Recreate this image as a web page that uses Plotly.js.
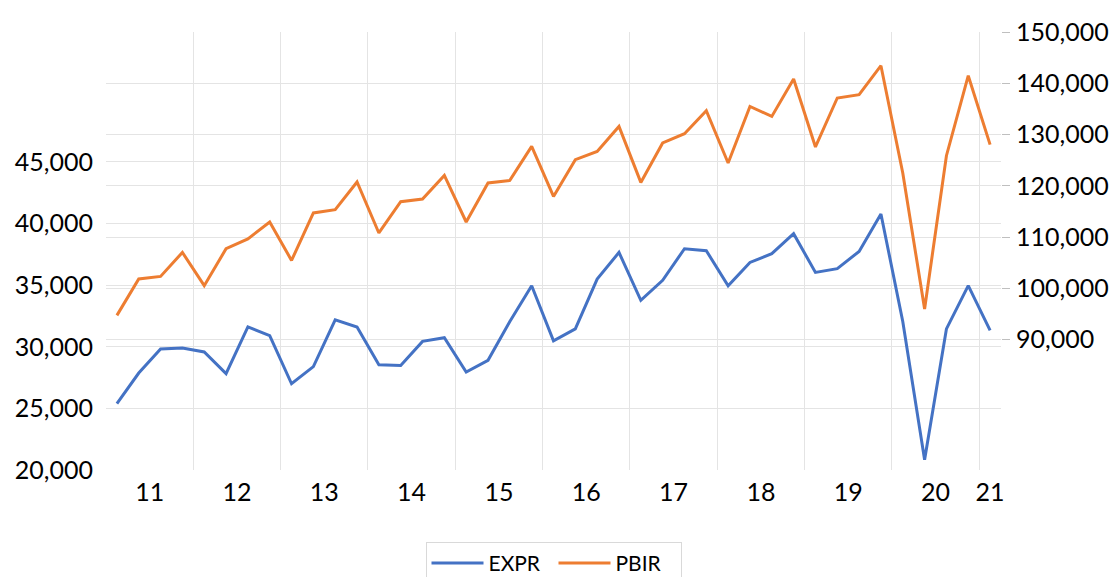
<!DOCTYPE html>
<html>
<head>
<meta charset="utf-8">
<script src="https://cdn.plot.ly/plotly-3.0.1.min.js"></script>
<style>html,body{margin:0;padding:0;background:#fff;overflow:hidden;width:1115px;height:577px;}#chart{width:1115px;height:600px;}</style>
</head>
<body>
<div id="chart"></div>
<script>
// Quarterly observations 2011Q1 .. 2021Q1
const quarters = [
  "2011Q1","2011Q2","2011Q3","2011Q4",
  "2012Q1","2012Q2","2012Q3","2012Q4",
  "2013Q1","2013Q2","2013Q3","2013Q4",
  "2014Q1","2014Q2","2014Q3","2014Q4",
  "2015Q1","2015Q2","2015Q3","2015Q4",
  "2016Q1","2016Q2","2016Q3","2016Q4",
  "2017Q1","2017Q2","2017Q3","2017Q4",
  "2018Q1","2018Q2","2018Q3","2018Q4",
  "2019Q1","2019Q2","2019Q3","2019Q4",
  "2020Q1","2020Q2","2020Q3","2020Q4",
  "2021Q1"
];
const years = ["11","12","13","14","15","16","17","18","19","20","21"];

const EXPR = [
  25380, 27870, 29820, 29900,
  29580, 27820, 31610, 30900,
  27000, 28390, 32180, 31610,
  28550, 28490, 30440, 30740,
  27950, 28900, 32060, 34960,
  30490, 31450, 35500, 37660,
  33770, 35390, 37960, 37800,
  34960, 36850, 37560, 39180,
  36040, 36340, 37740, 40780,
  32060, 20840, 31450, 34960,
  31330
];
const PBIR = [
  94740, 101840, 102340, 107020,
  100530, 107740, 109640, 112950,
  105460, 114710, 115350, 120750,
  110810, 116910, 117440, 122040,
  112950, 120560, 121060, 127690,
  117940, 125100, 126720, 131590,
  120670, 128360, 130170, 134650,
  124460, 135490, 133540, 140840,
  127580, 137130, 137780, 143430,
  122510, 95990, 125880, 141480,
  128030
];
const leftTicks = [20000, 25000, 30000, 35000, 40000, 45000];
const rightTicks = [90000, 100000, 110000, 120000, 130000, 140000, 150000];

const xIdx = quarters.map((q, i) => i);
// year label at centre of its quarters, grid lines between years
const yearCenters = years.map(y => {
  const idx = quarters.map((q, i) => q.slice(2, 4) === y ? i : -1).filter(i => i >= 0);
  return (idx[0] + idx[idx.length - 1]) / 2;
});
const yearBounds = [];
for (let i = 1; i < quarters.length; i++) {
  if (quarters[i].slice(0, 4) !== quarters[i - 1].slice(0, 4)) yearBounds.push(i - 0.5);
}

const FONT = "Lato, 'Open Sans', sans-serif";
const GRID = "#e4e4e4";
const H = 600;

const traces = [
  {x: xIdx, y: EXPR, name: "EXPR", type: "scatter", mode: "lines",
   line: {color: "#4472C4", width: 3}, yaxis: "y"},
  {x: xIdx, y: PBIR, name: "PBIR", type: "scatter", mode: "lines",
   line: {color: "#ED7D31", width: 3}, yaxis: "y2"}
];

const layout = {
  width: 1115, height: H,
  margin: {l: 106, r: 114, t: 32, b: H - 470, autoexpand: false},
  paper_bgcolor: "#fff", plot_bgcolor: "#fff",
  font: {family: FONT, color: "#000", size: 25},
  showlegend: true,
  legend: {orientation: "h", x: 0.5, xanchor: "center", y: -0.164, yanchor: "top",
    bordercolor: "#d9d9d9", borderwidth: 1, font: {size: 21, family: FONT, color: "#000"},
    itemwidth: 52, entrywidth: 60, entrywidthmode: "pixels"},
  xaxis: {
    range: [-0.5, quarters.length - 0.5],
    tickmode: "array", tickvals: yearCenters, ticktext: years,
    showgrid: false, zeroline: false, showline: false, ticks: "",
    ticklabelstandoff: 5,
    tickfont: {size: 25, family: FONT, color: "#000"},
    minor: {tickmode: "array", tickvals: yearBounds, showgrid: true, gridcolor: GRID, gridwidth: 1, ticks: ""}
  },
  yaxis: {
    range: [20000, 55550],
    tickmode: "array", tickvals: leftTicks, tickformat: ",d",
    showgrid: true, gridcolor: GRID, gridwidth: 1,
    zeroline: false, showline: false, ticks: "",
    ticklabelstandoff: 12,
    tickfont: {size: 25, family: FONT, color: "#000"}
  },
  yaxis2: {
    overlaying: "y", side: "right",
    range: [64590, 150000],
    tickmode: "array", tickvals: rightTicks, tickformat: ",d",
    showgrid: true, gridcolor: GRID, gridwidth: 1,
    zeroline: false, showline: false,
    ticks: "outside", ticklen: 8, tickcolor: "#bfbfbf", tickwidth: 1,
    ticklabelstandoff: 1,
    tickfont: {size: 25, family: FONT, color: "#000"}
  }
};

Plotly.newPlot("chart", traces, layout, {displayModeBar: false, staticPlot: true});
</script>
</body>
</html>
